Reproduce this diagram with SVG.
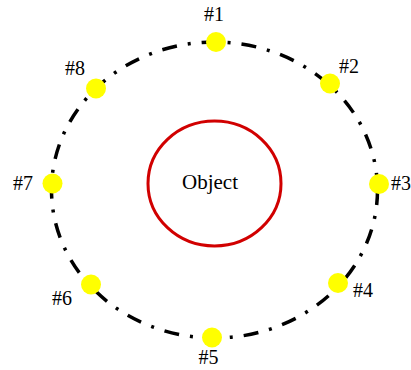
<svg xmlns="http://www.w3.org/2000/svg" width="411" height="370" viewBox="0 0 411 370">
  <style>
    .orbit { fill: none; stroke: #000; stroke-width: 3.5; stroke-dasharray: 15 11 3 11; }
    .pt { fill: #ffff00; stroke: none; }
    .lbl { font-family: "Liberation Serif", "Times New Roman", serif; font-size: 20px; fill: #000; }
    .obj { fill: none; stroke: #d10000; stroke-width: 3; }
  </style>
  <rect width="411" height="370" fill="#fff"/>
  <g id="connectors">
    <ellipse class="orbit" cx="214.5" cy="190" rx="163" ry="148"/>
  </g>
  <g id="object">
    <ellipse class="obj" cx="214.5" cy="183.5" rx="66.5" ry="62.5"/>
    <text class="lbl" x="210" y="189" font-size="21" text-anchor="middle" style="font-size:21px">Object</text>
  </g>
  <g id="p1">
    <circle class="pt" cx="216" cy="42" r="10"/>
    <text class="lbl" x="214" y="21" text-anchor="middle">#1</text>
  </g>
  <g id="p2">
    <circle class="pt" cx="330" cy="83.5" r="10"/>
    <text class="lbl" x="339" y="73">#2</text>
  </g>
  <g id="p3">
    <circle class="pt" cx="379" cy="184" r="10"/>
    <text class="lbl" x="391" y="190">#3</text>
  </g>
  <g id="p4">
    <circle class="pt" cx="338" cy="283" r="10"/>
    <text class="lbl" x="353" y="297">#4</text>
  </g>
  <g id="p5">
    <circle class="pt" cx="212" cy="337.5" r="10"/>
    <text class="lbl" x="208.5" y="364" text-anchor="middle">#5</text>
  </g>
  <g id="p6">
    <circle class="pt" cx="91" cy="284.5" r="10"/>
    <text class="lbl" x="52" y="305">#6</text>
  </g>
  <g id="p7">
    <circle class="pt" cx="52.5" cy="183.5" r="10"/>
    <text class="lbl" x="13" y="190">#7</text>
  </g>
  <g id="p8">
    <circle class="pt" cx="96" cy="88.5" r="10"/>
    <text class="lbl" x="65" y="75">#8</text>
  </g>
</svg>
